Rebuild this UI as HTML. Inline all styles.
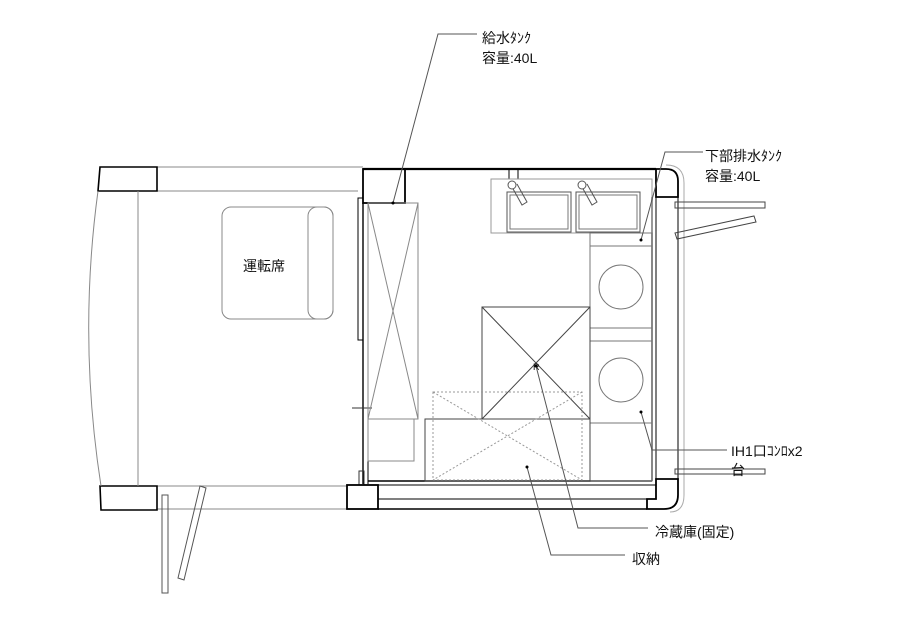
<!DOCTYPE html>
<html><head><meta charset="utf-8"><style>
html,body{margin:0;padding:0;background:#fff;}
svg{display:block;}
text{font-family:"Liberation Sans","Noto Sans CJK JP",sans-serif;font-size:14px;fill:#111;}
</style></head><body>
<svg width="900" height="621" viewBox="0 0 900 621" xmlns="http://www.w3.org/2000/svg">
<g fill="none" stroke="#222" stroke-width="1">
<line x1="157" y1="167" x2="363" y2="167" stroke="#888"/>
<line x1="157" y1="191" x2="358" y2="191" stroke="#888"/>
<line x1="157" y1="486" x2="347" y2="486" stroke="#888"/>
<line x1="157" y1="509" x2="347" y2="509" stroke="#888"/>
<path d="M100 167 L157 167 L157 191 L98 191 Z" stroke="#000" stroke-width="1.6"/>
<path d="M100 486 L157 486 L157 510 L101 510 Z" stroke="#000" stroke-width="1.6"/>
<path d="M98 191 Q78 338 101 486" stroke="#888"/>
<line x1="138" y1="191" x2="138" y2="486" stroke="#888"/>
<rect x="222" y="207" width="111" height="112" rx="9" stroke="#888"/>
<rect x="308" y="207" width="25" height="112" rx="9" stroke="#888"/>
<rect x="162" y="495" width="6" height="98" stroke="#555"/>
<path d="M200 486 L206 488 L184 580 L178 578 Z" stroke="#555"/>
<line x1="363" y1="169" x2="656" y2="169" stroke="#000" stroke-width="2.2"/>
<rect x="363" y="169" width="42" height="34" stroke="#000" stroke-width="1.8"/>
<path d="M656 169 L666 169 Q678 169 678 181 L678 197 L656 197 Z" stroke="#000" stroke-width="1.8"/>
<path d="M666 165 Q684 165 684 183 L684 495 Q684 512 670 512" stroke="#aaa"/>
<rect x="509" y="169" width="9" height="10" stroke="#000"/>
<line x1="363" y1="203" x2="363" y2="484" stroke="#000" stroke-width="1.4"/>
<line x1="368" y1="203" x2="368" y2="484" stroke="#000"/>
<rect x="358" y="198" width="5" height="142" stroke="#000"/>
<line x1="368" y1="203" x2="368" y2="340" stroke="#bbb" stroke-dasharray="1,1"/>
<line x1="352" y1="408" x2="372" y2="408" stroke="#333"/>
<rect x="359" y="471" width="5" height="14" stroke="#333"/>
<line x1="652" y1="197" x2="652" y2="481" stroke="#000" stroke-width="1.4"/>
<line x1="656" y1="197" x2="656" y2="479" stroke="#000"/>
<line x1="678" y1="197" x2="678" y2="479" stroke="#000"/>
<line x1="368" y1="481" x2="652" y2="481" stroke="#000" stroke-width="1.4"/>
<line x1="378" y1="485" x2="656" y2="485" stroke="#000"/>
<line x1="378" y1="499" x2="647" y2="499" stroke="#000"/>
<line x1="378" y1="509" x2="647" y2="509" stroke="#000" stroke-width="1.4"/>
<rect x="347" y="485" width="31" height="24" stroke="#000" stroke-width="1.8"/>
<path d="M656 479 L678 479 L678 495 Q678 509 664 509 L647 509 L647 499 L656 499 Z" stroke="#000" stroke-width="1.8"/>
<rect x="675" y="202" width="90" height="6" stroke="#444"/>
<path d="M675 233 L754 216 L756 222 L677 239 Z" stroke="#444"/>
<rect x="675" y="469" width="90" height="5" stroke="#444"/>
<rect x="491" y="179" width="161" height="54" stroke="#999"/>
<rect x="507" y="192" width="64" height="40" stroke="#555"/>
<rect x="510" y="195" width="58" height="34" stroke="#777"/>
<rect x="576" y="192" width="64" height="40" stroke="#555"/>
<rect x="579" y="195" width="58" height="34" stroke="#777"/>
<path d="M512 187 L522 205 L527 202 L517 184" stroke="#555"/>
<circle cx="512" cy="185" r="4" stroke="#555" fill="#fff"/>
<path d="M582 187 L592 205 L597 202 L587 184" stroke="#555"/>
<circle cx="582" cy="185" r="4" stroke="#555" fill="#fff"/>
<rect x="590" y="233" width="62" height="248" stroke="#777"/>
<line x1="590" y1="246" x2="652" y2="246" stroke="#777"/>
<line x1="590" y1="328" x2="652" y2="328" stroke="#777"/>
<line x1="590" y1="341" x2="652" y2="341" stroke="#777"/>
<line x1="590" y1="423" x2="652" y2="423" stroke="#777"/>
<circle cx="621" cy="287" r="22" stroke="#777"/>
<circle cx="621" cy="380" r="22" stroke="#777"/>
<rect x="482" y="307" width="108" height="112" stroke="#444"/>
<line x1="482" y1="307" x2="590" y2="419" stroke="#444"/>
<line x1="590" y1="307" x2="482" y2="419" stroke="#444"/>
<rect x="425" y="419" width="165" height="62" stroke="#444"/>
<g stroke="#999" stroke-dasharray="2,2">
<rect x="433" y="392" width="149" height="88"/>
<line x1="433" y1="392" x2="582" y2="480"/>
<line x1="582" y1="392" x2="433" y2="480"/>
</g>
<rect x="368" y="203" width="50" height="216" stroke="#888"/>
<line x1="368" y1="203" x2="418" y2="419" stroke="#888"/>
<line x1="418" y1="203" x2="368" y2="419" stroke="#888"/>
<rect x="368" y="419" width="46" height="42" stroke="#888"/>
<g stroke="#555">
<polyline points="477,34 438,34 393,203"/>
<polyline points="703,152 665,152 641,240"/>
<polyline points="641,412 652,450 727,450"/>
<polyline points="536,366 578,528 648,528"/>
<polyline points="527,467 551,555 625,555"/>
</g>
</g>
<g fill="#000">
<circle cx="393" cy="203" r="1.5"/><circle cx="641" cy="240" r="1.5"/><circle cx="641" cy="412" r="1.5"/><circle cx="536" cy="366" r="1.5"/><circle cx="527" cy="467" r="1.5"/>
</g>
<text x="533" y="370" style="font-size:9px">R</text>
<text x="243" y="271">運転席</text>
<text x="482" y="43">給水ﾀﾝｸ</text>
<text x="482" y="63">容量:40L</text>
<text x="705" y="161">下部排水ﾀﾝｸ</text>
<text x="705" y="181">容量:40L</text>
<text x="731" y="456">IH1口ｺﾝﾛx2</text>
<text x="731" y="475">台</text>
<text x="655" y="537">冷蔵庫(固定)</text>
<text x="632" y="564">収納</text>
</svg>
</body></html>
